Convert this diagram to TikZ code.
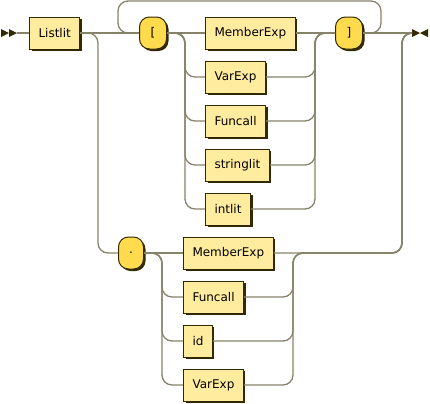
\documentclass[tikz,border=0pt]{standalone}
\usepackage{fontspec}
\setmainfont{DejaVu Sans}
\usepackage{tikz}
\usetikzlibrary{shadows}
\definecolor{ntfill}{HTML}{FFEC9E}
\definecolor{tfill}{HTML}{FFDB4D}
\definecolor{ink}{HTML}{332900}
\definecolor{railc}{HTML}{87826A}
\tikzstyle{nonterm}=[rectangle,draw=ink,fill=ntfill,line width=1bp,minimum height=32bp,inner xsep=9bp,inner ysep=0pt,anchor=west,font=\fontsize{12bp}{14bp}\selectfont,drop shadow={shadow xshift=2bp,shadow yshift=-2bp,fill=ink,opacity=1}]
\tikzstyle{term}=[nonterm,fill=tfill,rounded corners=10bp,minimum width=27bp]
\tikzstyle{rail}=[draw=railc,line width=1.3bp,rounded corners=10bp]

\begin{document}
\begin{tikzpicture}[x=1bp,y=-1bp]
\useasboundingbox (0,0) rectangle (430,404);

% start and end marks
\fill[ink] (1,29) -- (9,33) -- (1,37) -- cycle (9,29) -- (17,33) -- (9,37) -- cycle;
\fill[ink] (412,29) -- (420,33) -- (412,37) -- cycle (428,29) -- (420,33) -- (428,37) -- cycle;
\coordinate (begin) at (17,33);
\coordinate (finish) at (412,33);

\node[nonterm] (listlit) at (29,33) {Listlit};
\node[term] (lbrack) at (139,33) {[};
\node[term] (rbrack) at (335,33) {]};
\node[term,minimum width=25bp] (dot) at (118,253) {.};

\foreach \pos/ \name/ \txt in {{(205,33)/memA/MemberExp},{(205,77)/varA/VarExp},{(205,121)/funA/Funcall},{(205,165)/stringlit/stringlit},{(205,209)/intlit/intlit}}
    \node[nonterm] (\name) at \pos {\txt};

\foreach \pos/ \name/ \txt in {{(183,253)/memB/MemberExp},{(183,297)/funB/Funcall},{(183,341)/idB/id},{(183,385)/varB/VarExp}}
    \node[nonterm] (\name) at \pos {\txt};

% turning points
\coordinate (outL) at (98,33);
\coordinate (outR) at (402,33);
\coordinate (loopL) at (118,1);
\coordinate (loopR) at (381,1);
\coordinate (splitA) at (185,33);
\coordinate (joinA) at (315,33);
\coordinate (splitB) at (162,253);
\coordinate (joinB) at (293,253);

\draw[rail] (begin) -- (listlit.west);
\draw[rail] (listlit.east) -- (lbrack.west);
\draw[rail] (listlit.east) -- (outL) |- (dot.west);
\draw[rail] (rbrack.east) -| (loopR) -- (loopL) |- (lbrack.west);
\draw[rail] (rbrack.east) -- (finish);

\draw[rail] (lbrack.east) -- (memA.west);
\draw[rail] (memA.east) -- (rbrack.west);
\foreach \name in {varA,funA,stringlit,intlit} {
    \draw[rail] (lbrack.east) -- (splitA) |- (\name.west);
    \draw[rail] (\name.east) -| (joinA) -- (rbrack.west);
}

\draw[rail] (dot.east) -- (memB.west);
\draw[rail] (memB.east) -| (outR) -- (finish);
\foreach \name in {funB,idB,varB} {
    \draw[rail] (dot.east) -- (splitB) |- (\name.west);
    \draw[rail] (\name.east) -| (joinB) -| (outR) -- (finish);
}
\end{tikzpicture}
\end{document}
